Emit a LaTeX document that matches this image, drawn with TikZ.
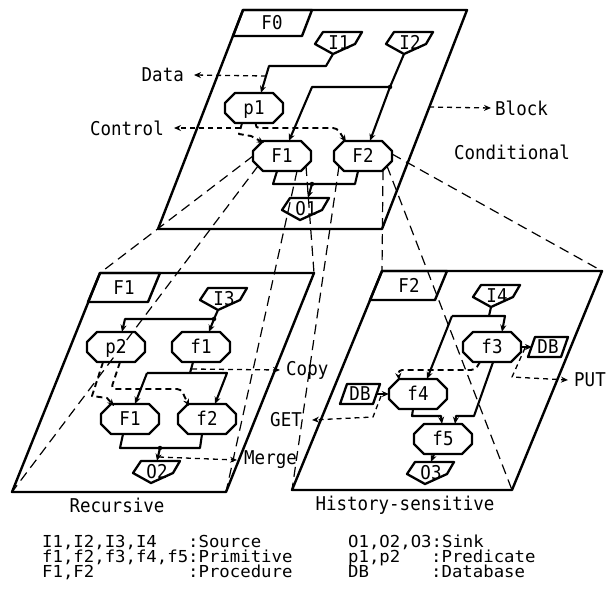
\documentclass[tikz,border=0pt]{standalone}
\usepackage{fontspec}
\newfontfamily\pf[FakeStretch=0.92]{DejaVu Sans Mono}
\newfontfamily\pfl[FakeStretch=1.05]{DejaVu Sans Mono}
\usetikzlibrary{arrows.meta,calc}
\newcommand\fnode[3]{%
  \node[ntext,minimum width=58pt,minimum height=30pt] (#1) at (#2) {#3};
  \draw[shp,shift={(#1.center)}] (-19,-15) -- (19,-15) -- (29,-5) -- (29,5) -- (19,15) -- (-19,15) -- (-29,5) -- (-29,-5) -- cycle;}
\newcommand\srcnode[3]{%
  \node[ntext,minimum width=46pt,minimum height=22pt] (#1) at (#2) {#3};
  \draw[shp,shift={(#1.center)}] (-16,-11) -- (23,-11) -- (16,1) -- (-6,11) -- (-24,1) -- cycle;
  \coordinate (#1-b) at ($(#1.center)+(-6,11)$);}
\newcommand\dbnode[2]{%
  \node[ntext,minimum width=40pt,minimum height=20pt] (#1) at (#2) {DB};
  \draw[shp,shift={(#1.center)}] (-13,-10) -- (20,-10) -- (13,10) -- (-20,10) -- cycle;}
\begin{document}
\begin{tikzpicture}[x=1pt,y=-1pt,line join=round,
  panel/.style={line width=2.4pt},
  shp/.style={line width=2.3pt},
  conn/.style={line width=2.1pt},
  ctrl/.style={line width=1.9pt,dash pattern=on 6pt off 4pt},
  proj/.style={line width=1.2pt,dash pattern=on 10pt off 6pt},
  lab/.style={line width=1.3pt,dash pattern=on 5pt off 4pt},
  >={Stealth[length=7pt,width=6pt]},
  ntext/.style={font=\pf\fontsize{19}{19}\selectfont,inner sep=0pt,text height=13.5pt,text depth=0pt},
  txt/.style={font=\pf\fontsize{19}{19}\selectfont,inner sep=0pt},
  leg/.style={font=\pfl\fontsize{16.5}{16.5}\selectfont,inner sep=0pt,anchor=base west},
  dot/.style={circle,fill,inner sep=0pt,minimum size=4.5pt}]
\useasboundingbox (0,0) rectangle (607,592);

% ---------- panel corners ----------
\coordinate (TTL) at (243,10);  \coordinate (TTR) at (467,10);
\coordinate (TBR) at (382,229); \coordinate (TBL) at (158,229);
\coordinate (LTL) at (100,273); \coordinate (LTR) at (314,273);
\coordinate (LBR) at (226,492); \coordinate (LBL) at (12,492);
\coordinate (RTL) at (382,271); \coordinate (RTR) at (602,271);
\coordinate (RBR) at (512,490); \coordinate (RBL) at (292,490);

\draw[panel] (TTL) -- (TTR) -- (TBR) -- (TBL) -- cycle;
\draw[panel] (LTL) -- (LTR) -- (LBR) -- (LBL) -- cycle;
\draw[panel] (RTL) -- (RTR) -- (RBR) -- (RBL) -- cycle;

% title tabs
\draw[panel] (TTL) -- (312,10) -- (302,36) -- (233,36) -- cycle;
\node[ntext] (tF0) at (272,23) {F0};
\draw[panel] (LTL) -- (160,273) -- (148,302) -- (88,302) -- cycle;
\node[ntext] (tF1) at (124,288) {F1};
\draw[panel] (RTL) -- (447,271) -- (435,300) -- (370,300) -- cycle;
\node[ntext] (tF2) at (409,286) {F2};

% ---------- top panel F0 ----------
\srcnode{I1}{339,43}{I1}
\srcnode{I2}{410,43}{I2}
\fnode{p1}{254,108}{p1}
\fnode{F1a}{282,156}{F1}
\fnode{F2a}{363,156}{F2}
\srcnode{O1}{306,209}{O1}

\coordinate (jA) at (390,87);
\coordinate (jB) at (312,184);
\draw[conn,->] (I1-b) -- (326,66) -- (269,66) -- ([xshift=7pt]p1.north);
\draw[conn,->] (I2-b) -- (jA) -- ([xshift=7pt]F2a.north);
\draw[conn,->] (jA) -- (312,87) -- ([xshift=7pt]F1a.north);
\node[dot] (dA) at (jA) {};
\draw[ctrl,->] ([xshift=-12pt]p1.south) -- (239,134) -- (251,136) -- ($(F1a.center)+(-18,-13)$);
\draw[ctrl,->,rounded corners=4pt] ([xshift=2pt]p1.south) -- (255,128) -- (337,128) -- ($(F2a.center)+(-17,-14)$);
\draw[conn] ([xshift=-5pt]F1a.south) -- (273,184) -- (355,184) -- ([xshift=-5pt]F2a.south);
\draw[conn,->] (jB) -- ([xshift=2pt]O1.north);
\node[dot] (dB) at (jB) {};

\node[txt,anchor=east] (Data) at (184,75) {Data};
\draw[lab,->] (266,76) -- ([xshift=10pt]Data.east);
\node[txt,anchor=east] (Control) at (164,128) {Control};
\draw[lab,->] (240,128) -- ([xshift=10pt]Control.east);
\node[txt,anchor=west] (Block) at (495,108) {Block};
\draw[lab,->] (429,107) -- ([xshift=-4pt]Block.west);
\node[txt] (Cond) at (512,152) {Conditional};

% ---------- left panel F1 ----------
\srcnode{I3}{224,299}{I3}
\fnode{p2}{116,347}{p2}
\fnode{f1}{201,347}{f1}
\fnode{F1b}{130,419}{F1}
\fnode{f2}{207,419}{f2}
\srcnode{O2}{157,472}{O2}

\coordinate (jC) at (214,319);
\coordinate (jD) at (190,373);
\coordinate (jE) at (160,448);
\draw[conn] (I3-b) -- (jC);
\draw[conn,->] (jC) -- ([xshift=8pt]f1.north);
\draw[conn,->] (jC) -- (125,319) -- ([xshift=6pt]p2.north);
\node[dot] (dC) at (jC) {};
\draw[conn] ([xshift=-8pt]f1.south) -- (jD);
\draw[conn,->] (147,373) -- ([xshift=5pt]F1b.north);
\draw[conn,->] (147,373) -- (227,373) -- ([xshift=8pt]f2.north);
\draw[ctrl,->] ([xshift=-13pt]p2.south) -- (92,396) -- (107,398) -- ($(F1b.center)+(-16,-13)$);
\draw[ctrl,->,rounded corners=4pt] ([xshift=4pt]p2.south) -- (111,389) -- (181,389) -- ($(f2.center)+(-18,-13)$);
\draw[conn] ([xshift=-7pt]F1b.south) -- (120,448) -- (200,448) -- ([xshift=-5pt]f2.south);
\draw[conn,->] (jE) -- (O2.north);
\node[dot] (dE) at (jE) {};

\node[txt,anchor=west] (Copy) at (286,370) {Copy};
\draw[lab,->] (192,369) -- ([xshift=-6pt]Copy.west);
\node[txt,anchor=west] (Merge) at (244,460) {Merge};
\draw[lab,->] (159,457) -- ([xshift=-7pt]Merge.west);

% ---------- right panel F2 ----------
\srcnode{I4}{497,296}{I4}
\fnode{f3}{492,347}{f3}
\dbnode{DBr}{548,347}
\fnode{f4}{418,394}{f4}
\dbnode{DBl}{360,394}
\fnode{f5}{443,439}{f5}
\srcnode{O3}{431,473}{O3}

\draw[conn] (I4-b) -- (489,316);
\draw[conn,->] (452,316) -- (505,316) -- ([xshift=10pt]f3.north);
\draw[conn,->] (452,316) -- ([xshift=9pt]f4.north);
\draw[conn,->] (f3.east) -- ($(DBr.center)+(-16,0)$);
\draw[conn,->] ($(DBl.center)+(17,0)$) -- (f4.west);
\draw[ctrl,->,rounded corners=4pt] ($(f3.center)+(-12,15)$) -- (475,370) -- (398,370) -- ($(f4.center)+(-19,-14)$);
\draw[conn,->] ([xshift=-5pt]f4.south) -- (412,416) -- (441,416) -- ([xshift=-1pt]f5.north);
\draw[conn,->] ([xshift=1pt]f3.south) -- (474,416) -- (456,416) -- ([xshift=12pt]f5.north);
\draw[conn,->] ([xshift=-9pt]f5.south) -- (O3.north);

\node[txt,anchor=west] (PUT) at (574,380) {PUT};
\draw[lab,->] (525,348) -- (512,377) -- ([xshift=-6pt]PUT.west);
\node[txt,anchor=east] (GET) at (302,420) {GET};
\draw[lab,->] (381,396) -- (373,417) -- ([xshift=10pt]GET.east);

% ---------- projection lines ----------
\draw[proj] ($(F1a.center)+(-29,0)$) -- (LTL);
\draw[proj] ($(F1a.center)+(-24,10)$) -- (LBL);
\draw[proj] ($(F1a.center)+(15,15)$) -- (LBR);
\draw[proj] ($(F1a.center)+(24,10)$) -- (LTR);
\draw[proj] ($(F2a.center)+(29,-2)$) -- (RTR);
\draw[proj] ($(F2a.center)+(24,10)$) -- (RBR);
\draw[proj] ($(F2a.center)+(-24,10)$) -- (RBL);
\draw[proj] ($(F2a.center)+(20,14)$) -- (RTL);

% ---------- captions ----------
\node[txt] (Rec) at (117,505) {Recursive};
\node[txt] (Hist) at (405,505) {History-sensitive};

% ---------- legend ----------
\node[leg] (L1a) at (42,547) {I1,I2,I3,I4};
\node[leg] (L1b) at (188,547) {:Source};
\node[leg] (L2a) at (42,562) {f1,f2,f3,f4,f5:Primitive};
\node[leg] (L3a) at (42,577) {F1,F2};
\node[leg] (L3b) at (188,577) {:Procedure};
\node[leg] (R1a) at (348,547) {O1,O2,O3:Sink};
\node[leg] (R2a) at (348,562) {p1,p2};
\node[leg] (R2b) at (431,562) {:Predicate};
\node[leg] (R3a) at (348,577) {DB};
\node[leg] (R3b) at (431,577) {:Database};
\end{tikzpicture}
\end{document}
